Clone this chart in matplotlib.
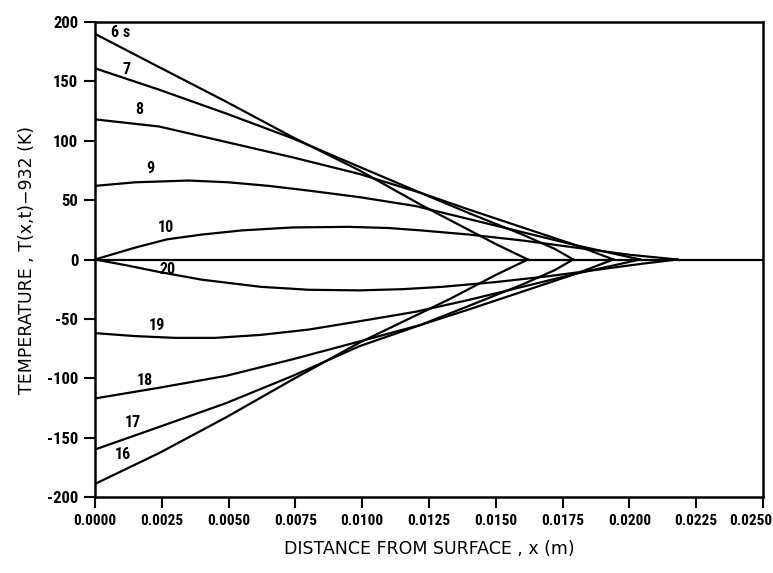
import numpy as np
import matplotlib
matplotlib.use("Agg")
import matplotlib.pyplot as plt
import matplotlib.transforms as mtrans

plt.rcParams['axes.unicode_minus'] = False

# curves: x in m, T-932 in K
x6 = [0, 0.0024, 0.0049, 0.0074, 0.0099, 0.0122, 0.0133, 0.0150, 0.0162]
t6 = [190, 162, 133, 103, 75, 46, 33, 13, 0]

x7 = [0, 0.0024, 0.0049, 0.0074, 0.0099, 0.0122, 0.0140, 0.0160, 0.0172, 0.0179]
t7 = [161, 143, 123, 102, 78, 56, 39, 21, 9, 0]

x8 = [0, 0.0024, 0.0049, 0.0074, 0.0099, 0.0122, 0.0140, 0.0160, 0.0180, 0.0194]
t8 = [118, 112, 99, 86, 72, 56, 42, 27, 12, 0]

x9 = [0, 0.0015, 0.0035, 0.0050, 0.0065, 0.0080, 0.0099, 0.0120, 0.0140, 0.0160, 0.0180, 0.0204]
t9 = [62, 65, 66.5, 65, 62, 58, 52.5, 45, 34, 23, 12, 0]

x10 = [0, 0.0015, 0.0027, 0.0040, 0.0055, 0.0074, 0.0095, 0.0110, 0.0122, 0.0140, 0.0160, 0.0180, 0.0200, 0.0218]
t10 = [0, 10, 17, 21, 24.5, 27, 27.5, 26.5, 24.5, 21, 16, 10, 4, 0]

x16 = [0, 0.0024, 0.0049, 0.0074, 0.0099, 0.0122, 0.0133, 0.0150, 0.0162]
t16 = [-189, -163, -133, -101, -70, -45, -33, -13, 0]

x17 = [0, 0.0024, 0.0049, 0.0074, 0.0099, 0.0122, 0.0140, 0.0160, 0.0172, 0.0179]
t17 = [-160, -141, -121, -98, -73, -55, -39, -21, -9, 0]

x18 = [0, 0.0024, 0.0049, 0.0074, 0.0099, 0.0122, 0.0140, 0.0160, 0.0180, 0.0194]
t18 = [-117, -108, -98, -84, -69, -55, -42, -27, -12, 0]

x19 = [0, 0.0015, 0.0030, 0.0045, 0.0062, 0.0080, 0.0099, 0.0120, 0.0140, 0.0160, 0.0180, 0.0204]
t19 = [-62, -64.5, -66, -66, -63.5, -59, -52, -44, -34, -23, -12, 0]

x20 = [0, 0.0012, 0.0024, 0.0040, 0.0062, 0.0080, 0.0099, 0.0115, 0.0130, 0.0150, 0.0170, 0.0190, 0.0205, 0.0218]
t20 = [0, -5, -10.5, -17, -23, -25.5, -26, -25, -23, -19, -14, -8, -3.5, 0]

curves = [(x6, t6), (x7, t7), (x8, t8), (x9, t9), (x10, t10),
          (x16, t16), (x17, t17), (x18, t18), (x19, t19), (x20, t20)]

labels = ['6 s', '7', '8', '9', '10', '16', '17', '18', '19', '20']
label_x = [0.00097, 0.00119, 0.00165, 0.00206, 0.00266, 0.00105, 0.00142, 0.00187, 0.00232, 0.00273]
label_y = [191, 160, 126, 77, 27, -164, -137, -102, -56, -8]

xticks = np.arange(0, 0.02501, 0.0025)
yticks = np.arange(-200, 201, 50)

fig = plt.figure(figsize=(7.73, 5.73), dpi=100)
ax = fig.add_axes([95/773, 1-497/573, 668/773, 475/573])

ax.axhline(0, color='black', lw=1.6)
for xs, ts in curves:
    ax.plot(xs, ts, color='black', lw=1.6)

# narrow bold lettering like the original plotter font
nf = dict(family=['Roboto Condensed', 'Liberation Sans Narrow', 'DejaVu Sans'],
          fontstretch='condensed', fontweight='bold')
for lab, lx, ly in zip(labels, label_x, label_y):
    ax.text(lx, ly, lab, ha='center', va='center', fontsize=11.5, **nf)

ax.set_xlim(0, 0.025)
ax.set_ylim(-200, 200)
ax.set_xticks(xticks)
ax.set_yticks(yticks)
ax.set_xticklabels(['%.4f' % v for v in xticks], fontsize=11, **nf)
ax.set_yticklabels(['%d' % v for v in yticks], fontsize=12, **nf)
ax.tick_params(direction='out', length=8, width=1.5, pad=4)
for s in ax.spines.values():
    s.set_linewidth(1.8)

# keep the last x label inside the figure
last = ax.get_xticklabels()[-1]
last.set_horizontalalignment('right')
last.set_transform(last.get_transform() + mtrans.ScaledTranslation(9/100, 0, fig.dpi_scale_trans))

ax.set_xlabel('DISTANCE FROM SURFACE , x (m)', fontsize=12.5, labelpad=9)
ax.set_ylabel('TEMPERATURE , T(x,t)\u2212932 (K)', fontsize=12.5, labelpad=8)

fig.savefig('out.png', dpi=100)
